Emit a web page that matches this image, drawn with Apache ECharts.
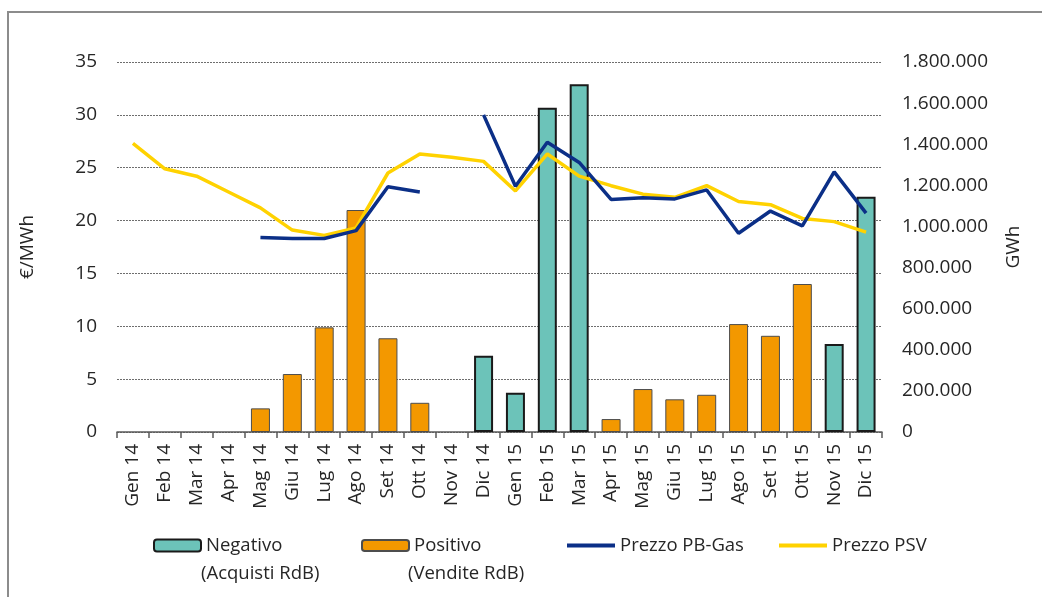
<!DOCTYPE html>
<html>
<head>
<meta charset="utf-8">
<script src="https://cdn.jsdelivr.net/npm/echarts@6/dist/echarts.min.js"></script>
<style>
  html, body { margin: 0; padding: 0; background: #fff; }
  #chart { width: 1042px; height: 597px; }
</style>
</head>
<body>
<div id="chart"></div>
<script>
// mesi
var mesi = ['Gen 14','Feb 14','Mar 14','Apr 14','Mag 14','Giu 14','Lug 14','Ago 14','Set 14','Ott 14','Nov 14','Dic 14',
            'Gen 15','Feb 15','Mar 15','Apr 15','Mag 15','Giu 15','Lug 15','Ago 15','Set 15','Ott 15','Nov 15','Dic 15'];

// sbilanciamento (GWh) - asse destro
var negativo = [null,null,null,null,null,null,null,null,null,null,null,371000,
                191000,1578000,1692000,null,null,null,null,null,null,null,428000,1145000];
var positivo = [null,null,null,null,115000,282000,509000,1080000,456000,142000,null,null,
                null,null,null,63000,209000,159000,181000,525000,468000,720000,null,null];

// prezzi (€/MWh) - asse sinistro
var prezzoPB = [null,null,null,null,18.4,18.3,18.3,19.05,23.2,22.7,null,30.0,
                23.25,27.4,25.5,22.0,22.15,22.05,22.9,18.8,20.9,19.5,24.6,20.7];
var prezzoPSV = [27.3,24.9,24.2,22.7,21.2,19.1,18.6,19.3,24.5,26.3,26.0,25.6,
                 22.8,26.3,24.2,23.3,22.5,22.2,23.3,21.8,21.5,20.2,19.9,18.9];

var font = '"Open Sans", sans-serif';
var testo = '#262626';

function migliaia(v) {
  return String(v).replace(/\B(?=(\d{3})+(?!\d))/g, '.');
}

var chart = echarts.init(document.getElementById('chart'));

var legendaTesto = { fontFamily: font, fontSize: 18.5, color: testo };

chart.setOption({
  animation: false,
  textStyle: { fontFamily: font },
  grid: { left: 117, right: 160, top: 62, bottom: 165 },
  legend: [
    { data: ['Negativo'], left: 148, top: 531, itemWidth: 47, itemHeight: 12, textStyle: legendaTesto },
    { data: ['Positivo'], left: 356, top: 531, itemWidth: 47, itemHeight: 11, textStyle: legendaTesto },
    { data: [{ name: 'Prezzo PB-Gas', icon: 'rect' }], left: 562, top: 531, itemWidth: 48, itemHeight: 4, textStyle: legendaTesto },
    { data: [{ name: 'Prezzo PSV', icon: 'rect' }], left: 774, top: 531, itemWidth: 48, itemHeight: 4, textStyle: legendaTesto }
  ],
  graphic: [
    { type: 'polyline', silent: true,
      shape: { points: [[8, 597], [8, 12], [1042, 12]] },
      style: { stroke: '#8c8c8c', lineWidth: 2, fill: null } },
    { type: 'text', left: 201, top: 564,
      style: { text: '(Acquisti RdB)', font: '18.5px ' + font, fill: testo } },
    { type: 'text', left: 408, top: 564,
      style: { text: '(Vendite RdB)', font: '18.5px ' + font, fill: testo } }
  ],
  xAxis: {
    type: 'category',
    data: mesi,
    boundaryGap: true,
    axisLine: { lineStyle: { color: '#595959', width: 1.5 } },
    axisTick: { show: true, length: 6, alignWithLabel: false, lineStyle: { color: '#595959', width: 1.5 } },
    axisLabel: { rotate: 90, interval: 0, margin: 12, fontSize: 19, color: testo, fontFamily: font }
  },
  yAxis: [
    {
      type: 'value', min: 0, max: 35, interval: 5,
      name: '€/MWh', nameLocation: 'middle', nameGap: 80, nameRotate: 90,
      nameTextStyle: { fontSize: 19, color: testo, fontFamily: font },
      axisLine: { show: false }, axisTick: { show: false },
      axisLabel: { margin: 20, fontSize: 19, color: testo, fontFamily: font },
      splitLine: { show: true, lineStyle: { color: '#6e6e6e', type: [2, 1], width: 1.2 } }
    },
    {
      type: 'value', min: 0, max: 1800000, interval: 200000, position: 'right',
      name: 'GWh', nameLocation: 'middle', nameGap: 122, nameRotate: 90,
      nameTextStyle: { fontSize: 19, color: testo, fontFamily: font },
      axisLine: { show: false }, axisTick: { show: false },
      axisLabel: { margin: 20, fontSize: 19, color: testo, fontFamily: font, formatter: migliaia },
      splitLine: { show: false }
    }
  ],
  series: [
    {
      name: 'Negativo', type: 'bar', yAxisIndex: 1, stack: 'rdb', barWidth: 19,
      data: negativo,
      itemStyle: { color: '#6cc3b9', borderColor: '#1a1a1a', borderWidth: 2 }
    },
    {
      name: 'Positivo', type: 'bar', yAxisIndex: 1, stack: 'rdb', barWidth: 19,
      data: positivo,
      itemStyle: { color: '#f39800', borderColor: '#4d4d4d', borderWidth: 1 }
    },
    {
      name: 'Prezzo PB-Gas', type: 'line', yAxisIndex: 0, data: prezzoPB,
      symbol: 'none', connectNulls: false, z: 5,
      itemStyle: { color: '#0b2f87' },
      lineStyle: { color: '#0b2f87', width: 3.5 }
    },
    {
      name: 'Prezzo PSV', type: 'line', yAxisIndex: 0, data: prezzoPSV,
      symbol: 'none', z: 4,
      itemStyle: { color: '#ffd200' },
      lineStyle: { color: '#ffd200', width: 3.5 }
    }
  ]
});
</script>
</body>
</html>
